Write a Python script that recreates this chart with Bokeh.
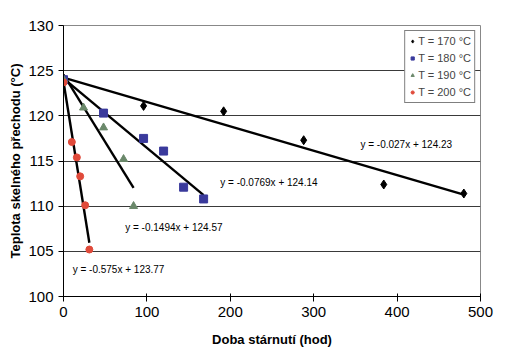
from bokeh.plotting import figure
from bokeh.models import Range1d, Legend, LegendItem, Label
from bokeh.embed import file_html
from bokeh.resources import INLINE

# data
t170_x = [0, 96, 192, 288, 384, 480]
t170_y = [124.0, 121.1, 120.5, 117.3, 112.4, 111.4]
t180_x = [0, 48, 96, 120, 144, 168]
t180_y = [124.0, 120.3, 117.5, 116.1, 112.1, 110.8]
t190_x = [0, 24, 48, 72, 84]
t190_y = [124.0, 120.9, 118.7, 115.2, 110.0]
t200_x = [0, 10, 16, 20, 26, 31]
t200_y = [123.7, 117.1, 115.4, 113.3, 110.1, 105.2]

slopes = [-0.027, -0.0769, -0.1494, -0.575]
intercepts = [124.23, 124.14, 124.57, 123.77]
eq_labels = ["y = -0.027x + 124.23", "y = -0.0769x + 124.14",
             "y = -0.1494x + 124.57", "y = -0.575x + 123.77"]
legend_labels = ["T = 170 °C", "T = 180 °C", "T = 190 °C", "T = 200 °C"]

FONT = "Liberation Sans"

p = figure(width=502, height=350, output_backend="svg", toolbar_location=None,
           x_range=Range1d(0, 500), y_range=Range1d(100, 130),
           min_border_left=63, min_border_right=22, min_border_top=25, min_border_bottom=54)

p.background_fill_color = "white"
p.border_fill_color = "white"
p.outline_line_color = "#888888"
p.outline_line_width = 1

p.xgrid.grid_line_color = None
p.ygrid.grid_line_color = "#3a3a3a"
p.ygrid.grid_line_width = 1
p.yaxis.ticker = [100, 105, 110, 115, 120, 125, 130]
p.xaxis.ticker = [0, 100, 200, 300, 400, 500]

for ax in (p.xaxis, p.yaxis):
    ax.axis_line_color = "black"
    ax.axis_line_width = 1
    ax.major_tick_line_color = "black"
    ax.major_tick_out = 5
    ax.major_tick_in = 0
    ax.minor_tick_line_color = None
    ax.major_label_text_font = FONT
    ax.major_label_text_font_size = "15px"
    ax.major_label_text_color = "black"
    ax.axis_label_text_font = FONT
    ax.axis_label_text_font_size = "13px"
    ax.axis_label_text_font_style = "bold"
    ax.axis_label_text_color = "black"

p.xaxis.major_tick_in = 3
p.xaxis.axis_label = "Doba stárnutí (hod)"
p.yaxis.axis_label = "Teplota skelného přechodu (°C)"
p.xaxis.axis_label_standoff = 12
p.yaxis.axis_label_standoff = 2

# trend lines
last_x = [t170_x[-1], t180_x[-1], t190_x[-1], t200_x[-1]]
for s, b, lx in zip(slopes, intercepts, last_x):
    p.line([0, lx], [b, b + s * lx], line_color="black", line_width=2.4)

r1 = p.scatter(t170_x, t170_y, marker="diamond", size=9, fill_color="black", line_color="black")
r2 = p.scatter(t180_x, t180_y, marker="square", size=8, fill_color="#3a3a9c", line_color="#3a3a9c")
r3 = p.scatter(t190_x, t190_y, marker="triangle", size=8, fill_color="#6a886a", line_color="#6a886a")
r4 = p.scatter(t200_x, t200_y, marker="circle", size=7, fill_color="#e04a3a", line_color="#e04a3a")

# equation labels
eq_pos = [(356, 116.8), (188, 112.6), (74, 107.6), (11, 103.0)]
for (x, y), txt in zip(eq_pos, eq_labels):
    p.add_layout(Label(x=x, y=y, text=txt, text_font=FONT, text_font_size="10px",
                       text_color="black", text_baseline="middle"))

legend = Legend(items=[LegendItem(label=l, renderers=[r]) for l, r in zip(legend_labels, [r1, r2, r3, r4])],
                location="top_right")
legend.label_text_font = FONT
legend.label_text_font_size = "11px"
legend.label_height = 14
legend.glyph_height = 14
legend.glyph_width = 8
legend.spacing = 3
legend.padding = 3
legend.margin = 5
legend.label_standoff = 2
legend.border_line_color = "black"
legend.border_line_width = 1
legend.background_fill_alpha = 1
p.add_layout(legend)

open("out.html", "w").write(file_html(p, INLINE))
